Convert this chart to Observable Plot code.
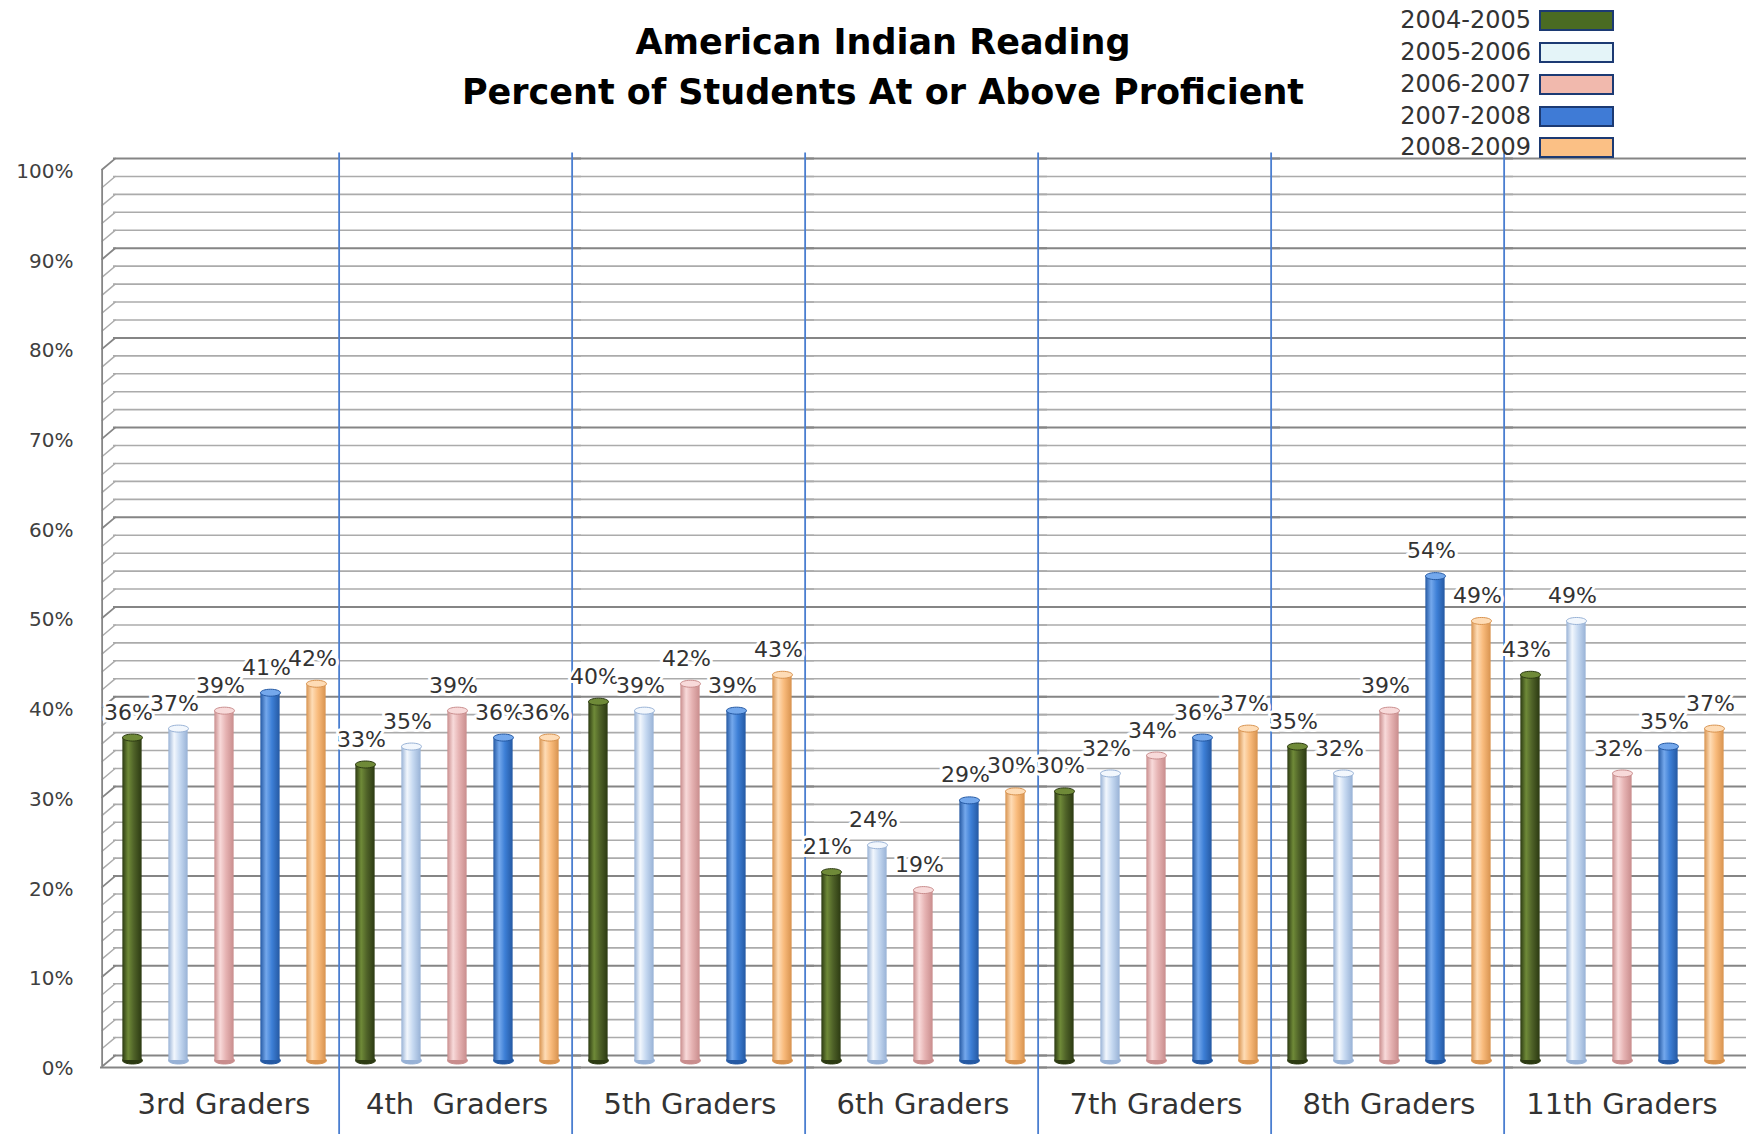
<!DOCTYPE html>
<html>
<head>
<meta charset="utf-8">
<script src="https://cdn.jsdelivr.net/npm/d3@7"></script>
<script src="https://cdn.jsdelivr.net/npm/@observablehq/plot@0.6"></script>
<style>
  html, body { margin: 0; padding: 0; background: #fff; }
  #wrap { position: relative; width: 1762px; height: 1134px; overflow: hidden; font-family: "DejaVu Sans", sans-serif; }
  #title { position: absolute; left: 283px; width: 1200px; top: 17px; text-align: center; font-weight: bold; font-size: 35px; line-height: 50px; color: #000; }
  .lg-text { position: absolute; right: 231px; font-size: 24px; line-height: 26px; color: #333; text-align: right; white-space: nowrap; }
  .lg-sw { position: absolute; left: 1539px; width: 75px; height: 21px; box-sizing: border-box; border: 2.5px solid #1c3a73; }
  svg text { white-space: pre; }
</style>
</head>
<body>
<div id="wrap">
  <div id="chart"></div>
  <div id="title">American Indian Reading<br>Percent of Students At or Above Proficient</div>
  <div id="legend"></div>
</div>
<script>
// ---- data ----
const grades = ["3rd Graders", "4th  Graders", "5th Graders", "6th Graders", "7th Graders", "8th Graders", "11th Graders"];
const years = ["2004-2005", "2005-2006", "2006-2007", "2007-2008", "2008-2009"];
const y2004 = [36, 33, 40, 21, 30, 35, 43];
const y2005 = [37, 35, 39, 24, 32, 32, 49];
const y2006 = [39, 39, 42, 19, 34, 39, 32];
const y2007 = [41, 36, 39, 29, 36, 54, 35];
const y2008 = [42, 36, 43, 30, 37, 49, 37];
const yTicks = [0, 10, 20, 30, 40, 50, 60, 70, 80, 90, 100];

// ---- styles ----
const baseC  = ["#4f6228", "#c6d9f1", "#e6b3b3", "#3d7fd6", "#f9bb7c"];
const darkC  = ["#2c3a12", "#98b2d6", "#c98d8d", "#2559a3", "#d8934f"];
const lightC = ["#6f8a38", "#f2f7fd", "#f8dada", "#74a8ec", "#fedcb6"];
const legendFill = ["#4a6b22", "#e4f4f8", "#f1b9ad", "#3f7bd6", "#fbc085"];

const series = [y2004, y2005, y2006, y2007, y2008];
const rows = [];
years.forEach((yr, i) => grades.forEach((g, j) => rows.push({grade: g, year: yr, yi: i, value: series[i][j]})));

const W = 1762, H = 1134, mL = 104, mR = 22, mT = 163, mB = 74;
const facetW = (W - mL - mR) / grades.length;
const step = facetW / years.length;
const barW = 20;
const inset = (step - barW) / 2;
const gridTicks = d3.range(0, 101, 2);
const minorTicks = gridTicks.filter(t => t % 10 !== 0);
const minorStroke = "#ababab";
const majorStroke = "#858585";

const ellipse = {
  draw(ctx) {
    const rx = barW / 2, ry = 3.5;
    ctx.moveTo(rx, 0);
    for (let k = 1; k <= 32; k++) {
      const a = 2 * Math.PI * k / 32;
      ctx.lineTo(rx * Math.cos(a), ry * Math.sin(a));
    }
    ctx.closePath();
  }
};
const lineShape = { draw(ctx, l) { ctx.moveTo(0, 0); ctx.lineTo(0, -l); } };

function gridMarks(ticks, stroke, width) {
  return [
    Plot.ruleY(ticks, {fx: () => grades[0], y: d => d, dy: -5, insetLeft: 6, stroke, strokeWidth: width}),
    Plot.ruleY(d3.cross(grades.slice(1), ticks), {fx: d => d[0], y: d => d[1], dy: -5, insetRight: -8, stroke, strokeWidth: width}),
    Plot.vector(ticks, {fx: () => grades[0], x: () => years[0], y: d => d, dx: -step / 2 - 7, dy: 6,
      length: 17, rotate: 50, anchor: "start", shape: lineShape, stroke, strokeWidth: width * 0.9})
  ];
}

const marks = [
  ...gridMarks(minorTicks, minorStroke, 1.6),
  ...gridMarks(yTicks, majorStroke, 2),
  // front axis line
  Plot.ruleX([years[0]], {fx: () => grades[0], x: d => d, y1: 0, y2: 100, dx: -step / 2 - 7, dy: 6, stroke: majorStroke, strokeWidth: 1.8}),
  // floor line
  Plot.ruleY([grades[0]], {fx: d => d, y: () => 0, dy: 7, insetLeft: -7, stroke: majorStroke, strokeWidth: 2}),
  Plot.ruleY(grades.slice(1), {fx: d => d, y: () => 0, dy: 7, insetRight: -8, stroke: majorStroke, strokeWidth: 2}),
  // blue group separators
  Plot.ruleX(grades.slice(1), {fx: d => d, x: () => years[0], dx: -step / 2 - 3, y1: -9, y2: 100.6, dy: -5, stroke: "#4a7ed0", strokeWidth: 1.8}),
];

years.forEach((yr, i) => {
  const data = rows.filter(r => r.yi === i);
  marks.push(
    Plot.dot(data, {fx: "grade", x: "year", y: () => 0, symbol: ellipse, fill: darkC[i], stroke: darkC[i], strokeWidth: 1}),
    Plot.barY(data, {fx: "grade", x: "year", y: "value", fill: `url(#g${i})`, insetLeft: inset, insetRight: inset}),
    Plot.dot(data, {fx: "grade", x: "year", y: "value", symbol: ellipse, fill: lightC[i], stroke: darkC[i], strokeWidth: 1})
  );
});

marks.push(
  // value labels
  Plot.text(rows, {fx: "grade", x: "year", y: "value", text: d => d.value + "%", dy: -25, dx: -4,
    fontSize: 22, fill: "#333", stroke: "white", strokeWidth: 6, paintOrder: "stroke"}),
  // y tick labels
  Plot.text(yTicks, {fx: () => grades[0], y: d => d, text: d => d + "%", frameAnchor: "left", textAnchor: "end",
    dx: -34, dy: 8, fontSize: 20, fill: "#404040"}),
  // category labels
  Plot.text(grades, {fx: d => d, text: d => d, frameAnchor: "bottom", dy: 53, fontSize: 29, fill: "#333"})
);

const chart = Plot.plot({
  width: W, height: H,
  marginLeft: mL, marginRight: mR, marginTop: mT, marginBottom: mB,
  fx: {domain: grades, padding: 0, axis: null, label: null},
  x: {domain: years, padding: 0, axis: null, label: null},
  y: {domain: [0, 100], axis: null, label: null},
  style: {fontFamily: "DejaVu Sans", background: "white", color: "#333"},
  marks
});

const svg = chart.tagName.toLowerCase() === "svg" ? chart : chart.querySelector("svg");
const defs = d3.select(svg).insert("defs", ":first-child");
years.forEach((yr, i) => {
  const g = defs.append("linearGradient").attr("id", `g${i}`).attr("x1", 0).attr("x2", 1).attr("y1", 0).attr("y2", 0);
  [[0, darkC[i]], [0.3, lightC[i]], [0.6, baseC[i]], [1, darkC[i]]].forEach(([o, c]) =>
    g.append("stop").attr("offset", o).attr("stop-color", c));
});
document.getElementById("chart").appendChild(chart);

// legend
const legend = document.getElementById("legend");
const rowCenters = [20, 52, 84, 116, 147];
years.forEach((yr, i) => {
  const t = document.createElement("div");
  t.className = "lg-text";
  t.style.top = (rowCenters[i] - 13) + "px";
  t.textContent = yr;
  legend.appendChild(t);
  const s = document.createElement("div");
  s.className = "lg-sw";
  s.style.top = (rowCenters[i] - 10) + "px";
  s.style.background = legendFill[i];
  legend.appendChild(s);
});
</script>
</body>
</html>
